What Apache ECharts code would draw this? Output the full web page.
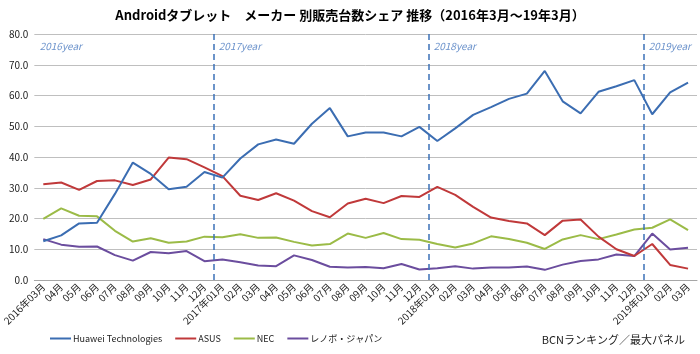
<!DOCTYPE html>
<html>
<head>
<meta charset="utf-8">
<script src="https://cdn.jsdelivr.net/npm/echarts@6/dist/echarts.min.js"></script>
<style>
html,body{margin:0;padding:0;background:#fff;}
#main{width:700px;height:354px;}
</style>
</head>
<body>
<div id="main"></div>
<script>
var months = ['2016年03月','04月','05月','06月','07月','08月','09月','10月','11月','12月',
  '2017年01月','02月','03月','04月','05月','06月','07月','08月','09月','10月','11月','12月',
  '2018年01月','02月','03月','04月','05月','06月','07月','08月','09月','10月','11月','12月',
  '2019年01月','02月','03月'];
var huawei = [12.6,14.5,18.4,18.6,28.0,38.2,34.5,29.5,30.3,35.1,
  33.3,39.5,44.1,45.7,44.3,50.8,55.9,46.7,48.0,48.0,
  46.7,49.8,45.2,49.3,53.7,56.2,58.9,60.6,68.0,58.1,
  54.2,61.2,63.0,65.0,53.9,61.0,64.2];
var asus = [31.1,31.7,29.3,32.2,32.4,30.9,32.7,39.8,39.3,36.6,
  33.8,27.4,26.0,28.2,25.8,22.4,20.4,24.9,26.4,25.0,
  27.3,27.0,30.3,27.7,23.8,20.3,19.2,18.4,14.6,19.3,
  19.7,14.1,10.0,7.8,11.7,4.9,3.7];
var nec = [19.9,23.3,20.9,20.7,16.0,12.5,13.6,12.1,12.5,14.1,
  13.9,14.9,13.7,13.8,12.4,11.2,11.7,15.1,13.7,15.3,
  13.3,13.1,11.7,10.6,11.9,14.2,13.3,12.1,10.1,13.2,
  14.6,13.3,14.8,16.4,17.0,19.7,16.2];
var lenovo = [13.3,11.5,10.8,10.9,8.1,6.3,9.1,8.7,9.4,6.1,
  6.7,5.8,4.7,4.5,8.0,6.5,4.3,4.1,4.2,3.8,
  5.2,3.4,3.8,4.5,3.7,4.1,4.1,4.4,3.3,5.0,
  6.2,6.7,8.3,7.8,15.1,9.9,10.5];
var seriesNames = ['Huawei Technologies','ASUS','NEC','レノボ・ジャパン'];
var seriesColors = ['#3b6db2','#c0393a','#9bbb47','#6b4d9e'];
var yearLabels = ['2016year','2017year','2018year','2019year'];

// 年の切り替わり位置（「年」を含むラベル）
var yearStarts = [0];
for (var i = 1; i < months.length; i++) {
  if (months[i].indexOf('年') >= 0) yearStarts.push(i);
}
var boundaries = yearStarts.slice(1).map(function (v) { return { xAxis: v }; });
var yearPoints = yearStarts.map(function (v, k) { return { value: [v + 0.3, 76], name: yearLabels[k] }; });

var font = '"Noto Sans CJK JP", sans-serif';
var chart = echarts.init(document.getElementById('main'));
var values = [huawei, asus, nec, lenovo];
var series = values.map(function (d, k) {
  return {
    name: seriesNames[k], type: 'line', data: d, symbol: 'none',
    lineStyle: { width: 2, color: seriesColors[k] }, itemStyle: { color: seriesColors[k] },
    z: 4 - k
  };
});
series.push({
  type: 'scatter', xAxisIndex: 1, data: yearPoints, symbolSize: 0, silent: true,
  label: { show: true, position: 'right', distance: 0, formatter: '{b}',
    color: '#4677be', fontStyle: 'italic', fontSize: 10, fontFamily: font },
  markLine: {
    symbol: 'none', silent: true, label: { show: false },
    lineStyle: { type: [6, 4], color: '#3d72b8', width: 1.5 },
    data: boundaries
  }
});

var option = {
  animation: false,
  textStyle: { fontFamily: font },
  title: [{
    text: 'Androidタブレット　メーカー 別販売台数シェア 推移（2016年3月～19年3月）',
    left: 'center', top: 4,
    textStyle: { fontSize: 13, fontWeight: 'bold', color: '#000', fontFamily: font }
  }, {
    text: 'BCNランキング／最大パネル',
    right: 10, bottom: 4,
    textStyle: { fontSize: 11, fontWeight: 'normal', color: '#222', fontFamily: font }
  }],
  legend: {
    data: seriesNames, left: 45, bottom: 6, icon: 'rect',
    itemWidth: 21, itemHeight: 2, itemGap: 13,
    textStyle: { fontSize: 9, color: '#222', fontFamily: font, padding: [0, 0, 0, -3] }
  },
  grid: { left: 30, right: 3, top: 34, bottom: 74 },
  xAxis: [{
    type: 'category', data: months, boundaryGap: true,
    axisLine: { lineStyle: { color: '#a6a6a6' } },
    axisTick: { show: false },
    axisLabel: { rotate: 45, interval: 0, fontSize: 10, color: '#222', margin: 5 }
  }, {
    type: 'value', min: 0, max: months.length, show: false
  }],
  yAxis: {
    type: 'value', min: 0, max: 80, interval: 10,
    axisLine: { show: false }, axisTick: { show: false },
    axisLabel: { fontSize: 10, color: '#222', margin: 6,
      formatter: function (v) { return v.toFixed(1); } },
    splitLine: { lineStyle: { color: '#bfbfbf', width: 1 } }
  },
  series: series
};
chart.setOption(option);
</script>
</body>
</html>
